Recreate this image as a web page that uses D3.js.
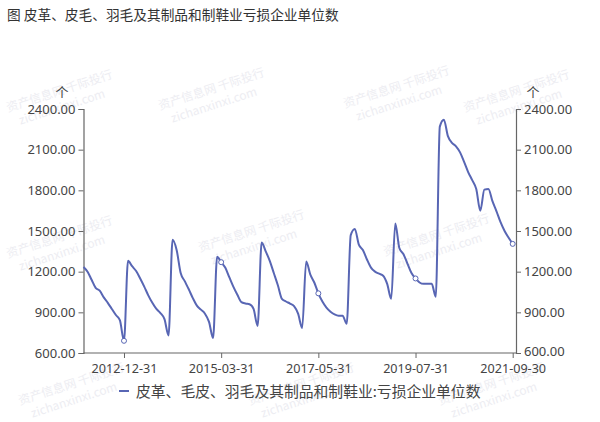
<!DOCTYPE html>
<html><head><meta charset="utf-8">
<script src="https://cdn.jsdelivr.net/npm/d3@7/dist/d3.min.js"></script>
<style>
html,body{margin:0;padding:0;background:#fff;}
svg{display:block;font-family:"Noto Sans CJK SC","Noto Sans",sans-serif;}
</style></head>
<body><svg id="c" width="600" height="422"></svg>
<script>
const title = "图 皮革、皮毛、羽毛及其制品和制鞋业亏损企业单位数";
const seriesName = "皮革、毛皮、羽毛及其制品和制鞋业:亏损企业单位数";
const years = [2012,2013,2014,2015,2016,2017,2018,2019,2020,2021];
const monthsPerYear = [2,3,4,5,6,7,8,9,10,11,12];
const lastMonth2021 = 9;
const lossCount = [
  1235,1200,1140,1080,1060,1010,970,925,880,840,690,
  1280,1240,1205,1150,1090,1025,970,925,895,850,730,
  1435,1360,1190,1130,1070,1005,950,920,890,830,710,
  1310,1270,1230,1160,1090,1030,975,965,960,925,800,
  1415,1350,1280,1190,1100,1000,980,965,945,890,785,
  1275,1180,1120,1040,980,935,905,885,875,875,815,
  1470,1515,1400,1360,1290,1230,1200,1185,1170,1110,1000,
  1555,1375,1330,1260,1190,1150,1120,1110,1110,1110,1015,
  2270,2320,2200,2150,2125,2080,2010,1935,1875,1810,1650,
  1805,1810,1720,1645,1565,1500,1450,1405
];
const yTicks = [600,900,1200,1500,1800,2100,2400];
const xTickLabels = ["2012-12-31","2015-03-31","2017-05-31","2019-07-31","2021-09-30"];
const yUnit = "个";
const watermarkA = "资产信息网 千际投行";
const watermarkB = "zichanxinxi.com";

// categories (month-end dates, Jan merged into Feb)
const categories = [];
years.forEach(y => monthsPerYear.forEach(m => {
  if (y === 2021 && m > lastMonth2021) return;
  const d = new Date(y, m, 0).getDate();
  categories.push(`${y}-${String(m).padStart(2,"0")}-${d}`);
}));
const data = categories.map((c,i)=>({c, v: lossCount[i]}));

const svg = d3.select("#c");
const L = 83.5, R = 512.7, RA = 516, T = 109, B = 353;
const lineColor = "#5866b4", axisColor = "#666", textColor = "#444";

// watermarks
const wm = svg.append("g").attr("fill","#ededf2").attr("font-size",12);
const wmPos = [[8,112],[160,110],[345,108],[465,112],[8,258],[200,252],[385,256],[20,405],[250,405],[440,405]];
wmPos.forEach(([x,y])=>{
  const g = wm.append("g").attr("transform",`translate(${x},${y}) rotate(-18)`);
  g.append("text").text(watermarkA);
  g.append("text").attr("x",8).attr("y",16).text(watermarkB);
});

svg.append("text").attr("x",7).attr("y",20).attr("font-size",13.7).attr("fill","#333").text(title);

const x = d3.scalePoint().domain(categories).range([L, R]);
const y = d3.scaleLinear().domain([600,2400]).range([B, T]);

const yl = d3.axisLeft(y).tickValues(yTicks).tickSize(5).tickPadding(3).tickFormat(d3.format(".2f"));
const gl = svg.append("g").attr("transform",`translate(${L},0)`).call(yl);
const yr = d3.axisRight(y).tickValues(yTicks).tickSize(5).tickPadding(3).tickFormat(d3.format(".2f"));
const gr = svg.append("g").attr("transform",`translate(${RA},0)`).call(yr);
const xa = d3.axisBottom(x).tickValues(xTickLabels).tickSize(5).tickPadding(4);
const gx = svg.append("g").attr("transform",`translate(0,${B})`).call(xa);
gx.select(".domain").attr("d",`M${L},0H${RA}`);
[gl,gr,gx].forEach(g=>{
  g.select(".domain").attr("stroke",axisColor).attr("stroke-width",1.2);
  g.selectAll(".tick line").attr("stroke",axisColor);
  g.selectAll(".tick text").attr("fill",textColor).attr("font-size",13)
    .attr("font-family","'Noto Sans','Noto Sans CJK SC',sans-serif");
});
gx.selectAll(".tick text").attr("font-size",12.6).attr("dy","0.85em");
gr.selectAll(".tick text").filter(d=>d===600).attr("dy","0.2em");

svg.append("text").attr("x",62).attr("y",97).attr("text-anchor","middle").attr("font-size",13).attr("fill",textColor).text(yUnit);
svg.append("text").attr("x",533).attr("y",97).attr("text-anchor","middle").attr("font-size",13).attr("fill",textColor).text(yUnit);

const line = d3.line().x(d=>x(d.c)).y(d=>y(d.v)).curve(d3.curveMonotoneX);
svg.append("path").datum(data).attr("d",line).attr("fill","none").attr("stroke",lineColor).attr("stroke-width",2);

svg.append("g").selectAll("circle").data(data.filter(d=>xTickLabels.includes(d.c))).join("circle")
  .attr("cx",d=>x(d.c)).attr("cy",d=>y(d.v)).attr("r",2.5)
  .attr("fill","#fff").attr("stroke",lineColor).attr("stroke-width",1);

// legend
const lg = svg.append("g").attr("transform","translate(119,391)");
lg.append("line").attr("x1",0).attr("x2",10).attr("y1",0).attr("y2",0).attr("stroke",lineColor).attr("stroke-width",2);
lg.append("text").attr("x",17).attr("y",5.5).attr("font-size",14.8).attr("fill","#444").text(seriesName);
</script></body></html>
